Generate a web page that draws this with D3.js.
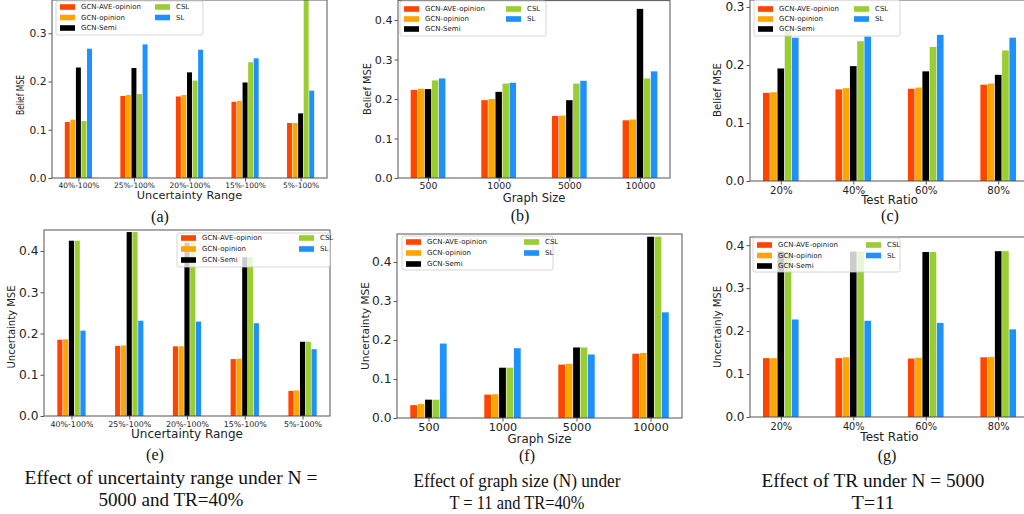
<html lang="en">
<head>
<meta charset="utf-8">
<title>GCN opinion MSE</title>
<style>
  body { margin: 0; background: #fff; }
  text { font-family: "DejaVu Sans", sans-serif; fill: #222; }
  .frame { fill: none; stroke: #555; stroke-width: 1; }
  .axis path { display: none; }
  .axis line { stroke: #555; }
  .legend-box { fill: #fff; fill-opacity: 0.8; stroke: #ccc; stroke-width: 0.8; }
  .caption { font-family: "Liberation Serif", "Times New Roman", serif; fill: #111; }
</style>
<script src="https://d3js.org/d3.v7.min.js"></script>
</head>
<body>
<svg id="fig" width="1024" height="514"></svg>
<script>
// categories
var rangeCats = ["40%-100%", "25%-100%", "20%-100%", "15%-100%", "5%-100%"];
var sizeCats = ["500", "1000", "5000", "10000"];
var ratioCats = ["20%", "40%", "60%", "80%"];

// series
var seriesNames = ["GCN-AVE-opinion", "GCN-opinion", "GCN-Semi", "CSL", "SL"];
var seriesColors = ["#ff4500", "#ffa500", "#000000", "#9acd32", "#1e90ff"];

// belief MSE, one row per series
var beliefRange = [
  [0.116, 0.170, 0.169, 0.158, 0.114],
  [0.121, 0.172, 0.172, 0.160, 0.114],
  [0.229, 0.228, 0.219, 0.198, 0.134],
  [0.118, 0.174, 0.202, 0.240, 0.380],
  [0.268, 0.277, 0.266, 0.248, 0.181]
];
var beliefSize = [
  [0.223, 0.197, 0.157, 0.146],
  [0.226, 0.200, 0.158, 0.148],
  [0.225, 0.218, 0.197, 0.428],
  [0.247, 0.239, 0.239, 0.252],
  [0.252, 0.241, 0.246, 0.270]
];
var beliefRatio = [
  [0.152, 0.158, 0.159, 0.166],
  [0.153, 0.160, 0.161, 0.168],
  [0.194, 0.198, 0.189, 0.183],
  [0.258, 0.241, 0.231, 0.225],
  [0.247, 0.249, 0.252, 0.247]
];

// uncertainty MSE
var uncRange = [
  [0.185, 0.170, 0.169, 0.138, 0.061],
  [0.186, 0.171, 0.169, 0.139, 0.062],
  [0.425, 0.446, 0.420, 0.385, 0.180],
  [0.425, 0.446, 0.420, 0.385, 0.180],
  [0.207, 0.231, 0.229, 0.225, 0.162]
];
var uncSize = [
  [0.033, 0.060, 0.137, 0.165],
  [0.036, 0.061, 0.139, 0.167],
  [0.047, 0.129, 0.181, 0.465],
  [0.047, 0.129, 0.181, 0.465],
  [0.191, 0.179, 0.163, 0.271]
];
var uncRatio = [
  [0.137, 0.137, 0.136, 0.139],
  [0.137, 0.139, 0.138, 0.140],
  [0.385, 0.385, 0.384, 0.386],
  [0.385, 0.385, 0.384, 0.386],
  [0.227, 0.224, 0.219, 0.204]
];

var yTicks3 = [0, 0.1, 0.2, 0.3];
var yTicks4 = [0, 0.1, 0.2, 0.3, 0.4];

// panel layout
var panels = [
  { id: "a", cats: rangeCats, vals: beliefRange, ticks: yTicks3, ymax: 0.369,
    x0: 52, x1: 327, y0: 0, y1: 178, xlabel: "Uncertainty Range", ylabel: "Belief MSE",
    fy: 10.7, fx: 7.5, fxl: 11.3, fyl: 10, ylLen: 40, ylX: 20, ylY: 95, xtBase: 10, xlBase: 199,
    leg: { x: 56, y: 1, w: 147, h: 34, r0: 6, step: 10.5, dx: 95 },
    tag: "(a)", tagX: 160, tagY: 222 },
  { id: "b", cats: sizeCats, vals: beliefSize, ticks: yTicks4, ymax: 0.449,
    x0: 398, x1: 670, y0: 0.6, y1: 178, xlabel: "Graph Size", ylabel: "Belief MSE",
    fy: 11.1, fx: 9.4, fxl: 11.5, fyl: 10, ylLen: 52, ylX: 367, ylY: 89, xtBase: 11, xlBase: 202,
    leg: { x: 400, y: 1, w: 146, h: 35, r0: 8, step: 10, dx: 102 },
    tag: "(b)", tagX: 520, tagY: 221 },
  { id: "c", cats: ratioCats, vals: beliefRatio, ticks: yTicks3, ymax: 0.312,
    x0: 750, x1: 1029, y0: 0, y1: 181, xlabel: "Test Ratio", ylabel: "Belief MSE",
    fy: 12, fx: 10.2, fxl: 11.7, fyl: 10.2, ylLen: 54, ylX: 717, ylY: 90, xtBase: 13, xlBase: 204,
    leg: { x: 754, y: 0, w: 146, h: 36, r0: 9, step: 10, dx: 96 },
    tag: "(c)", tagX: 890, tagY: 221 },
  { id: "e", cats: rangeCats, vals: uncRange, ticks: yTicks4, ymax: 0.451,
    x0: 44, x1: 330, y0: 230, y1: 416, xlabel: "Uncertainty Range", ylabel: "Uncertainty MSE",
    fy: 12.2, fx: 7.9, fxl: 12, fyl: 10, ylLen: 83, ylX: 11, ylY: 327, xtBase: 11, xlBase: 438,
    leg: { x: 177, y: 233, w: 153, h: 34, r0: 5, step: 11, dx: 118 },
    tag: "(e)", tagX: 155, tagY: 460 },
  { id: "f", cats: sizeCats, vals: uncSize, ticks: yTicks4, ymax: 0.472,
    x0: 397, x1: 682, y0: 234, y1: 418, xlabel: "Graph Size", ylabel: "Uncertainty MSE",
    fy: 12.2, fx: 11.2, fxl: 11.8, fyl: 10.7, ylLen: 88, ylX: 365, ylY: 326, xtBase: 13, xlBase: 443,
    leg: { x: 402, y: 236, w: 151, h: 34, r0: 6, step: 11, dx: 118 },
    tag: "(f)", tagX: 527, tagY: 461 },
  { id: "g", cats: ratioCats, vals: uncRatio, ticks: yTicks4, ymax: 0.419,
    x0: 750, x1: 1029, y0: 237, y1: 417, xlabel: "Test Ratio", ylabel: "Uncertainly MSE",
    fy: 12, fx: 9.8, fxl: 12, fyl: 10, ylLen: 82, ylX: 717, ylY: 327, xtBase: 13, xlBase: 441,
    leg: { x: 753, y: 238, w: 147, h: 34, r0: 7, step: 10.5, dx: 109 },
    tag: "(g)", tagX: 887, tagY: 461 }
];

// captions under the bottom row
var captions = [
  { lines: ["Effect of uncertainty range under N =", "5000 and TR=40%"], lens: [293, 145], x: 171, y: 484 },
  { lines: ["Effect of graph size (N) under", "T = 11 and TR=40%"], lens: [207, 135], x: 517, y: 487 },
  { lines: ["Effect of TR under N = 5000", "T=11"], lens: [223, 43], x: 873, y: 487 }
];

var barW = 0.1;

var svg = d3.select("#fig");
svg.append("rect").attr("width", 1024).attr("height", 514).attr("fill", "#fff");

panels.forEach(function(p) {
  var n = p.cats.length;
  var span = (n - 1) + barW * seriesNames.length;
  var m = 0.05 * span;
  var x = d3.scaleLinear().domain([-m, span + m]).range([p.x0, p.x1]);
  var y = d3.scaleLinear().domain([0, p.ymax]).range([p.y1, p.y0]);

  var g = svg.append("g");

  g.append("clipPath").attr("id", "clip-" + p.id)
    .append("rect")
      .attr("x", p.x0).attr("y", p.y0)
      .attr("width", p.x1 - p.x0).attr("height", p.y1 - p.y0);

  // bars
  var bars = g.append("g").attr("clip-path", "url(#clip-" + p.id + ")");
  p.vals.forEach(function(row, k) {
    bars.selectAll(".s" + k)
      .data(row)
      .enter().append("rect")
        .attr("x", function(d, i) { return x(i + k * barW) + 0.3; })
        .attr("width", x(barW) - x(0) - 0.6)
        .attr("y", function(d) { return y(d); })
        .attr("height", function(d) { return p.y1 - y(d); })
        .attr("fill", seriesColors[k]);
  });

  // axes
  var yAxis = d3.axisLeft(y).tickValues(p.ticks).tickFormat(d3.format(".1f"))
    .tickSize(3.5).tickPadding(2);
  g.append("g").attr("class", "axis")
    .attr("transform", "translate(" + p.x0 + ",0)")
    .call(yAxis)
    .selectAll("text").style("font-size", p.fy + "px");

  var xAxis = d3.axisBottom(x)
    .tickValues(d3.range(n).map(function(i) { return i + barW * 2.5; }))
    .tickFormat(function(d, i) { return p.cats[i]; })
    .tickSize(3.5)
    .tickPadding(p.xtBase - 3.5 - 0.71 * p.fx);
  g.append("g").attr("class", "axis")
    .attr("transform", "translate(0," + p.y1 + ")")
    .call(xAxis)
    .selectAll("text").style("font-size", p.fx + "px");

  g.append("rect").attr("class", "frame")
    .attr("x", p.x0).attr("y", p.y0)
    .attr("width", p.x1 - p.x0).attr("height", p.y1 - p.y0);

  // axis labels
  g.append("text")
    .attr("x", (p.x0 + p.x1) / 2)
    .attr("y", p.xlBase)
    .style("text-anchor", "middle")
    .style("font-size", p.fxl + "px")
    .text(p.xlabel);

  g.append("text")
    .attr("transform", "translate(" + p.ylX + "," + p.ylY + ") rotate(-90)")
    .attr("dy", "0.35em")
    .attr("textLength", p.ylLen)
    .attr("lengthAdjust", "spacingAndGlyphs")
    .style("text-anchor", "middle")
    .style("font-size", p.fyl + "px")
    .text(p.ylabel);

  // legend, two columns
  var L = p.leg;
  var lg = g.append("g");
  lg.append("rect").attr("class", "legend-box")
    .attr("x", L.x).attr("y", L.y).attr("width", L.w).attr("height", L.h)
    .attr("rx", 2);
  seriesNames.forEach(function(name, k) {
    var col = k < 3 ? 0 : 1;
    var row = k < 3 ? k : k - 3;
    var px = L.x + 4 + col * L.dx;
    var py = L.y + L.r0 + row * L.step;
    lg.append("rect")
      .attr("x", px).attr("y", py - 2.8)
      .attr("width", 15).attr("height", 5.6)
      .attr("fill", seriesColors[k]);
    lg.append("text")
      .attr("x", px + 21).attr("y", py)
      .attr("dy", "0.35em")
      .style("font-size", "7px")
      .text(name);
  });

  // subplot tag
  svg.append("text").attr("class", "caption")
    .attr("x", p.tagX).attr("y", p.tagY)
    .style("text-anchor", "middle")
    .style("font-size", "16px")
    .text(p.tag);
});

captions.forEach(function(c) {
  c.lines.forEach(function(line, i) {
    svg.append("text").attr("class", "caption")
      .attr("x", c.x).attr("y", c.y + i * 21.5)
      .attr("textLength", c.lens[i])
      .attr("lengthAdjust", "spacingAndGlyphs")
      .style("text-anchor", "middle")
      .style("font-size", "19px")
      .text(line);
  });
});
</script>
</body>
</html>
